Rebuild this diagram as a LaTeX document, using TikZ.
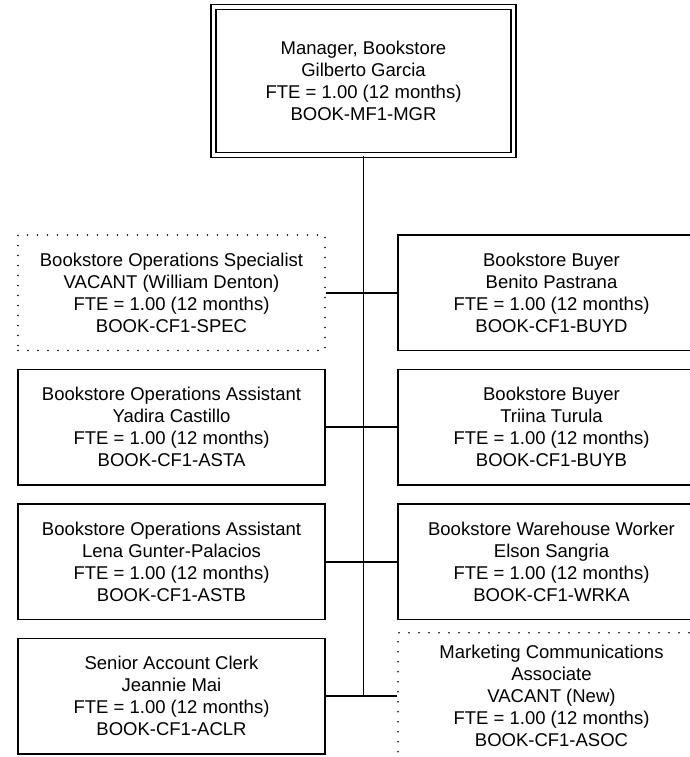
\documentclass[tikz,border=0pt]{standalone}
\usepackage{fontspec}
\setmainfont{Liberation Sans}
\begin{document}
\begin{tikzpicture}[x=1pt,y=-1pt,
  every node/.style={font=\fontsize{18.5}{22}\selectfont, align=center, inner sep=0pt},
  post/.style={draw=black, line width=1.8pt, minimum width=307pt, minimum height=115.5pt},
  vacant/.style={draw=black, line width=1.6pt, line cap=round, dash pattern=on 0pt off 10pt,
    minimum width=307pt, minimum height=115.5pt},
  head/.style={draw=black, line width=1.5pt, double=white, double distance=3.5pt,
    minimum width=300pt, minimum height=148pt},
  link/.style={line width=1.8pt}]
\useasboundingbox (0,0) rectangle (690,757);
\clip (0,0) rectangle (690,757);

% Head of the unit
\node[head] (mgr) at (363.5,81) {Manager, Bookstore\\Gilberto Garcia\\FTE = 1.00 (12 months)\\BOOK-MF1-MGR};

% Left column
\node[vacant] (spec) at (171.5,292.75) {Bookstore Operations Specialist\\VACANT (William Denton)\\FTE = 1.00 (12 months)\\BOOK-CF1-SPEC};
\node[post] (asta) at (171.5,427.25) {Bookstore Operations Assistant\\Yadira Castillo\\FTE = 1.00 (12 months)\\BOOK-CF1-ASTA};
\node[post] (astb) at (171.5,561.75) {Bookstore Operations Assistant\\Lena Gunter-Palacios\\FTE = 1.00 (12 months)\\BOOK-CF1-ASTB};
\node[post] (aclr) at (171.5,696.25) {Senior Account Clerk\\Jeannie Mai\\FTE = 1.00 (12 months)\\BOOK-CF1-ACLR};

% Right column
\node[post] (buyd) at (551.5,292.75) {Bookstore Buyer\\Benito Pastrana\\FTE = 1.00 (12 months)\\BOOK-CF1-BUYD};
\node[post] (buyb) at (551.5,427.25) {Bookstore Buyer\\Triina Turula\\FTE = 1.00 (12 months)\\BOOK-CF1-BUYB};
\node[post] (wrka) at (551.5,561.75) {Bookstore Warehouse Worker\\Elson Sangria\\FTE = 1.00 (12 months)\\BOOK-CF1-WRKA};
\node[vacant, minimum height=127pt] (asoc) at (551.5,696.25) {Marketing Communications\\Associate\\VACANT (New)\\FTE = 1.00 (12 months)\\BOOK-CF1-ASOC};

% Reporting lines
\draw[link] (mgr.south) -- (mgr.south |- aclr.east);
\draw[link] (spec.east) -- (buyd.west);
\draw[link] (asta.east) -- (buyb.west);
\draw[link] (astb.east) -- (wrka.west);
\draw[link] (aclr.east) -- (asoc.west);
\end{tikzpicture}
\end{document}
